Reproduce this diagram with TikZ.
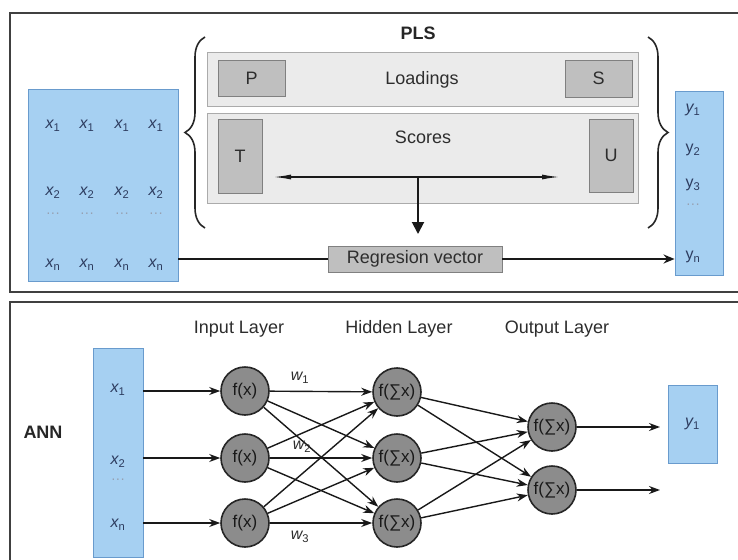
\documentclass[tikz,border=0pt]{standalone}
\usepackage{fontspec}
\setmainfont{Liberation Sans}
\usetikzlibrary{arrows.meta,decorations.pathreplacing}
\definecolor{bluefill}{RGB}{166,208,242}
\definecolor{bluedraw}{RGB}{105,155,205}
\definecolor{txt}{RGB}{45,45,45}
\definecolor{xtxt}{RGB}{45,60,95}
\begin{document}
\begin{tikzpicture}[x=1pt,y=-1pt,
  panel/.style={draw=black!75, line width=1.5pt},
  bluebox/.style={draw=bluedraw, fill=bluefill, line width=0.9pt, inner sep=0pt},
  graybox/.style={draw=black!50, fill=black!25, line width=0.9pt, inner sep=0pt},
  lightbox/.style={draw=black!33, fill=black!8, line width=0.9pt, inner sep=0pt},
  neuron/.style={circle, draw=black!85, fill=black!45, line width=1.6pt, minimum size=48pt, inner sep=0pt, text=black!90, font=\fontsize{17}{19}\selectfont},
  conn/.style={-{Stealth[length=11pt,width=8pt]}, line width=1.4pt, draw=black!90},
  lbl/.style={text=txt, font=\fontsize{18}{20}\selectfont},
  blbl/.style={text=black!85, font=\fontsize{18}{20}\selectfont\bfseries},
  xl/.style={text=xtxt, font=\fontsize{16}{18}\selectfont},
  wl/.style={text=txt, font=\fontsize{16}{18}\selectfont},
  dots/.style={text=xtxt!50, font=\fontsize{14}{16}\selectfont},
  brc/.style={decorate, decoration={brace, amplitude=20pt}, line width=1.6pt, draw=black!85}
]
\useasboundingbox (0,0) rectangle (738,559);
\fill[white] (0,0) rectangle (738,559);

% panels
\draw[panel] (740,13) -- (10,13) -- (10,292) -- (740,292);
\draw[panel] (740,302) -- (10,302) -- (10,562);

% ---------------- PLS ----------------
\node[blbl] (pls) at (418,33) {PLS};

\node[bluebox, minimum width=150pt, minimum height=192pt] (xmat) at (103,185) {};
\foreach \c in {53,87,122,156}{
  \node[xl] at (\c,126) {\itshape x\textsubscript{\upshape 1}};
  \node[xl] at (\c,193) {\itshape x\textsubscript{\upshape 2}};
  \node[dots] at (\c,215) {···};
  \node[xl] at (\c,265) {\itshape x\textsubscript{\upshape n}};
}

\node[lightbox, minimum width=431pt, minimum height=54pt] (load) at (422.5,79) {};
\node[lbl] (loadt) at (422,80) {Loadings};
\node[graybox, lbl, minimum width=67pt, minimum height=36pt] (P) at (251.5,78) {P};
\node[graybox, lbl, minimum width=67pt, minimum height=37pt] (S) at (598.5,78.5) {S};

\node[lightbox, minimum width=431pt, minimum height=90pt] (scores) at (422.5,158) {};
\node[lbl] (scorest) at (423,137) {Scores};
\node[graybox, lbl, minimum width=44pt, minimum height=74pt] (T) at (240,156) {T};
\node[graybox, lbl, minimum width=44pt, minimum height=73pt] (U) at (611,155.5) {U};

\coordinate (hl) at (273,177);
\coordinate (hr) at (560,177);
\coordinate (hm) at (418,177);
\coordinate (dn) at (418,234);
\draw[{Latex[length=18pt,width=5pt]}-{Latex[length=18pt,width=5pt]}, line width=1.5pt, draw=black!90] (hl) -- (hr);
\draw[-{Triangle[length=12pt,width=12pt]}, line width=2pt, draw=black!90] (hm) -- (dn);

\node[graybox, lbl, minimum width=174pt, minimum height=26pt] (reg) at (415,259) {Regresion vector};

\node[bluebox, minimum width=48pt, minimum height=184pt] (ymat) at (699,183) {};
\node[xl] at (693,110) {\itshape y\textsubscript{\upshape 1}};
\node[xl] at (693,150) {y\textsubscript{2}};
\node[xl] at (693,185) {y\textsubscript{3}};
\node[dots] at (693,206) {···};
\node[xl] at (693,257) {y\textsubscript{n}};

\draw[line width=2pt, draw=black!90] (xmat.east |- reg.west) -- (reg.west);
\draw[line width=2pt, draw=black!90, -{Stealth[length=11pt,width=9pt]}] (reg.east) -- (ymat.west |- reg.east);

\draw[brc] (205,228) -- (205,37);
\draw[brc] (648,37) -- (648,228);

% ---------------- ANN ----------------
\node[blbl] (ann) at (43,432) {ANN};
\node[lbl] (il) at (239,329) {Input Layer};
\node[lbl] (hl2) at (399,329) {Hidden Layer};
\node[lbl] (ol) at (557,329) {Output Layer};

\node[bluebox, minimum width=50pt, minimum height=209pt] (xin) at (118,452.5) {};
\node[xl] at (118,390) {\itshape x\textsubscript{\upshape 1}};
\node[xl] at (118,462) {\itshape x\textsubscript{\upshape 2}};
\node[dots] at (118,481) {···};
\node[xl] at (118,525) {\itshape x\textsubscript{\upshape n}};

\node[neuron] (i1) at (245,391) {f(x)};
\node[neuron] (i2) at (245,458) {f(x)};
\node[neuron] (i3) at (245,523) {f(x)};
\node[neuron] (h1) at (397,392) {f(∑x)};
\node[neuron] (h2) at (397,458) {f(∑x)};
\node[neuron] (h3) at (397,523) {f(∑x)};
\node[neuron] (o1) at (552,427) {f(∑x)};
\node[neuron] (o2) at (552,490) {f(∑x)};

\node[bluebox, minimum width=49pt, minimum height=78pt] (y1) at (692.5,424) {};
\node[xl] at (692.5,424) {\itshape y\textsubscript{\upshape 1}};

\foreach \k in {1,2,3}{
  \draw[conn] (xin.east |- i\k) -- (i\k);
}
\foreach \a in {1,2,3}{
  \foreach \b in {1,2,3}{
    \draw[conn] (i\a) -- (h\b);
  }
}
\foreach \a in {1,2,3}{
  \foreach \b in {1,2}{
    \draw[conn] (h\a) -- (o\b);
  }
}
\coordinate (e1) at (660,427);
\coordinate (e2) at (660,490);
\draw[conn] (o1) -- (e1);
\draw[conn] (o2) -- (e2);

\node[wl] at (300,378) {\itshape w\textsubscript{\upshape 1}};
\node[wl] at (302,447) {\itshape w\textsubscript{\upshape 2}};
\node[wl] at (300,537) {\itshape w\textsubscript{\upshape 3}};
\end{tikzpicture}
\end{document}
